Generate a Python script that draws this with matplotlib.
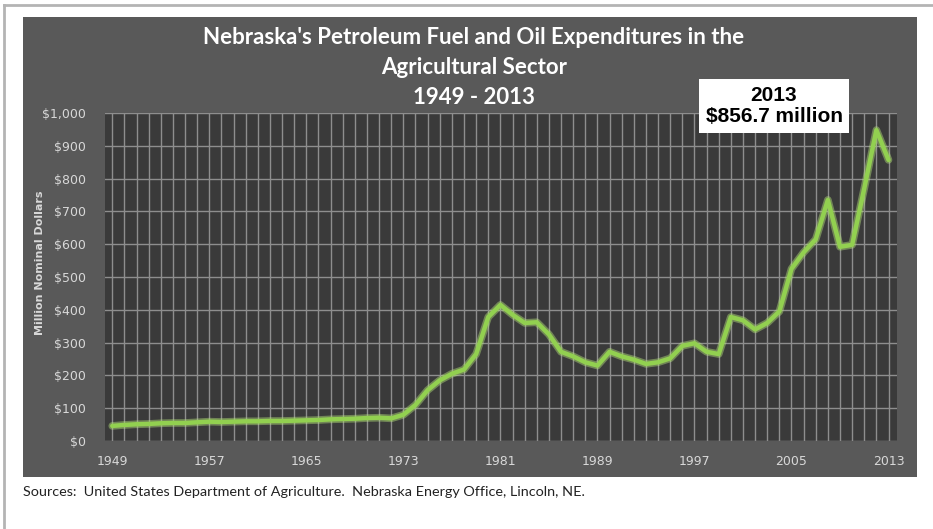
import matplotlib.pyplot as plt
import matplotlib.patches as patches
from matplotlib.ticker import FuncFormatter, MultipleLocator

# Nebraska petroleum fuel and oil expenditures, agriculture (million nominal $)
years = list(range(1949, 2014))
spend = [46, 49, 51, 52, 54, 55, 55, 57, 59, 58,
         59, 60, 60, 61, 61, 62, 63, 64, 66, 67,
         68, 70, 71, 69, 80, 110, 155, 185, 205, 218,
         265, 378, 415, 385, 360, 362, 325, 272, 258, 240,
         230, 272, 258, 248, 235, 240, 252, 290, 298, 272,
         265, 378, 368, 340, 360, 395, 525, 575, 615, 735,
         592, 598, 770, 948, 857]
xtick_years = [1949, 1957, 1965, 1973, 1981, 1989, 1997, 2005, 2013]

title_lines = ["Nebraska's Petroleum Fuel and Oil Expenditures in the",
               "Agricultural Sector",
               "1949 - 2013"]
callout = "2013\n$856.7 million"
source = "Sources:  United States Department of Agriculture.  Nebraska Energy Office, Lincoln, NE."

W, H = 933, 529
fig = plt.figure(figsize=(W / 100, H / 100), dpi=100)
fig.patch.set_facecolor("white")

# outer frame lines (top and left)
fig.add_artist(plt.Line2D([4 / W, 1], [1 - 5 / H, 1 - 5 / H], color="#b4b4b4", lw=2, transform=fig.transFigure))
fig.add_artist(plt.Line2D([4 / W, 4 / W], [0, 1 - 5 / H], color="#b4b4b4", lw=2, transform=fig.transFigure))

# dark chart panel
panel = patches.Rectangle((23 / W, 1 - 477 / H), 894 / W, 460 / H,
                          transform=fig.transFigure, facecolor="#595959",
                          edgecolor="none", zorder=0)
fig.add_artist(panel)

ax = fig.add_axes([105 / W, 1 - 441 / H, 792 / W, 328 / H])
ax.set_facecolor("#3a3a3a")
ax.set_xlim(1948.4, 2013.7)
ax.set_ylim(0, 1000)

ax.xaxis.set_minor_locator(MultipleLocator(1))
ax.set_xticks(xtick_years)
ax.yaxis.set_major_locator(MultipleLocator(100))
ax.yaxis.set_major_formatter(FuncFormatter(lambda v, p: "${:,.0f}".format(v)))
ax.grid(which="both", axis="x", color="#8e8e8e", lw=1)
ax.grid(which="major", axis="y", color="#8e8e8e", lw=1)
ax.set_axisbelow(True)
for s in ax.spines.values():
    s.set_visible(False)
ax.tick_params(which="both", length=0, colors="#d8d8d8", labelsize=9)
ax.tick_params(axis="x", pad=10)
ax.tick_params(axis="y", pad=14)

# line with a soft glow
ax.plot(years, spend, color="#b5e27a", lw=5.5, alpha=0.45, solid_capstyle="round", zorder=3)
ax.plot(years, spend, color="#92d050", lw=3.2, solid_capstyle="round", zorder=4)

ax.set_ylabel("Million Nominal Dollars", color="#d8d8d8", fontsize=8, fontweight="bold")
ax.yaxis.set_label_coords((45 - 105) / 792, (441 - 263) / 328)

for i, line in enumerate(title_lines):
    fig.text(474 / W, 1 - (37 + 30 * i) / H, line, ha="center", va="center",
             color="white", fontsize=16, fontweight="bold", family="Lato")

fig.text(774 / W, 1 - 106 / H, callout, ha="center", va="center", color="black",
         fontsize=15, fontweight="bold", family="Liberation Sans", linespacing=1.1,
         bbox=dict(facecolor="white", edgecolor="none", boxstyle="square,pad=0.33"))

fig.text(23 / W, 1 - 492 / H, source, ha="left", va="center", color="#222222",
         fontsize=10.4, family="Lato")

fig.savefig("out.png", dpi=100, facecolor="white")
